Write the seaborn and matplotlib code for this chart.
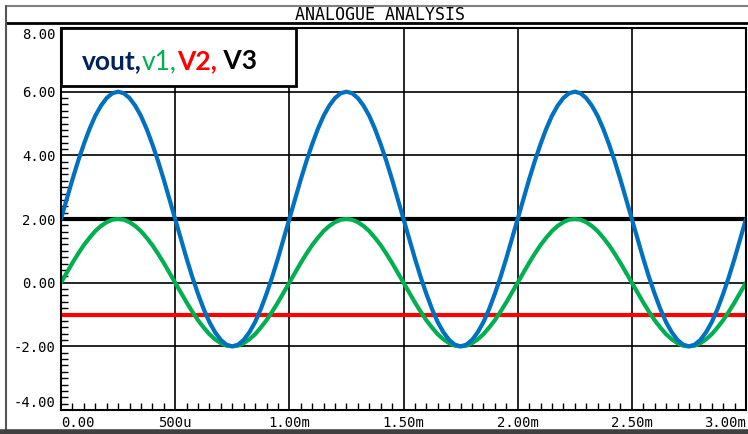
import matplotlib.pyplot as plt
import seaborn as sns
from matplotlib.lines import Line2D
from matplotlib.patches import Rectangle
from matplotlib.offsetbox import TextArea, HPacker, AnchoredOffsetbox
from matplotlib.ticker import MultipleLocator

# sample times in ms, every 25us
time_ms = [
    0.000, 0.025, 0.050, 0.075, 0.100, 0.125, 0.150, 0.175, 0.200, 0.225,
    0.250, 0.275, 0.300, 0.325, 0.350, 0.375, 0.400, 0.425, 0.450, 0.475,
    0.500, 0.525, 0.550, 0.575, 0.600, 0.625, 0.650, 0.675, 0.700, 0.725,
    0.750, 0.775, 0.800, 0.825, 0.850, 0.875, 0.900, 0.925, 0.950, 0.975,
    1.000, 1.025, 1.050, 1.075, 1.100, 1.125, 1.150, 1.175, 1.200, 1.225,
    1.250, 1.275, 1.300, 1.325, 1.350, 1.375, 1.400, 1.425, 1.450, 1.475,
    1.500, 1.525, 1.550, 1.575, 1.600, 1.625, 1.650, 1.675, 1.700, 1.725,
    1.750, 1.775, 1.800, 1.825, 1.850, 1.875, 1.900, 1.925, 1.950, 1.975,
    2.000, 2.025, 2.050, 2.075, 2.100, 2.125, 2.150, 2.175, 2.200, 2.225,
    2.250, 2.275, 2.300, 2.325, 2.350, 2.375, 2.400, 2.425, 2.450, 2.475,
    2.500, 2.525, 2.550, 2.575, 2.600, 2.625, 2.650, 2.675, 2.700, 2.725,
    2.750, 2.775, 2.800, 2.825, 2.850, 2.875, 2.900, 2.925, 2.950, 2.975,
    3.000]

vout = [
    2.00, 2.62, 3.24, 3.82, 4.35, 4.83, 5.24, 5.56, 5.80, 5.95,
    6.00, 5.95, 5.80, 5.56, 5.24, 4.83, 4.35, 3.82, 3.24, 2.62,
    2.00, 1.38, 0.76, 0.18, -0.35, -0.83, -1.24, -1.56, -1.80, -1.95,
    -2.00, -1.95, -1.80, -1.56, -1.24, -0.83, -0.35, 0.18, 0.76, 1.38,
    2.00, 2.62, 3.24, 3.82, 4.35, 4.83, 5.24, 5.56, 5.80, 5.95,
    6.00, 5.95, 5.80, 5.56, 5.24, 4.83, 4.35, 3.82, 3.24, 2.62,
    2.00, 1.38, 0.76, 0.18, -0.35, -0.83, -1.24, -1.56, -1.80, -1.95,
    -2.00, -1.95, -1.80, -1.56, -1.24, -0.83, -0.35, 0.18, 0.76, 1.38,
    2.00, 2.62, 3.24, 3.82, 4.35, 4.83, 5.24, 5.56, 5.80, 5.95,
    6.00, 5.95, 5.80, 5.56, 5.24, 4.83, 4.35, 3.82, 3.24, 2.62,
    2.00, 1.38, 0.76, 0.18, -0.35, -0.83, -1.24, -1.56, -1.80, -1.95,
    -2.00, -1.95, -1.80, -1.56, -1.24, -0.83, -0.35, 0.18, 0.76, 1.38,
    2.00]

v1 = [
    0.00, 0.31, 0.62, 0.91, 1.18, 1.41, 1.62, 1.78, 1.90, 1.98,
    2.00, 1.98, 1.90, 1.78, 1.62, 1.41, 1.18, 0.91, 0.62, 0.31,
    0.00, -0.31, -0.62, -0.91, -1.18, -1.41, -1.62, -1.78, -1.90, -1.98,
    -2.00, -1.98, -1.90, -1.78, -1.62, -1.41, -1.18, -0.91, -0.62, -0.31,
    0.00, 0.31, 0.62, 0.91, 1.18, 1.41, 1.62, 1.78, 1.90, 1.98,
    2.00, 1.98, 1.90, 1.78, 1.62, 1.41, 1.18, 0.91, 0.62, 0.31,
    0.00, -0.31, -0.62, -0.91, -1.18, -1.41, -1.62, -1.78, -1.90, -1.98,
    -2.00, -1.98, -1.90, -1.78, -1.62, -1.41, -1.18, -0.91, -0.62, -0.31,
    0.00, 0.31, 0.62, 0.91, 1.18, 1.41, 1.62, 1.78, 1.90, 1.98,
    2.00, 1.98, 1.90, 1.78, 1.62, 1.41, 1.18, 0.91, 0.62, 0.31,
    0.00, -0.31, -0.62, -0.91, -1.18, -1.41, -1.62, -1.78, -1.90, -1.98,
    -2.00, -1.98, -1.90, -1.78, -1.62, -1.41, -1.18, -0.91, -0.62, -0.31,
    0.00]

v2_level = -1.0
v3_level = 2.0

x_ticks = [0.0, 0.5, 1.0, 1.5, 2.0, 2.5, 3.0]
x_labels = ["0.00", "500u", "1.00m", "1.50m", "2.00m", "2.50m", "3.00m"]
y_ticks = [-4, -2, 0, 2, 4, 6, 8]
y_labels = ["-4.00", "-2.00", "0.00", "2.00", "4.00", "6.00", "8.00"]

sns.set_style("white")
plt.rcParams["font.family"] = ["DejaVu Sans Mono"]

fig = plt.figure(figsize=(7.48, 4.34), dpi=100)
ax = fig.add_axes([61 / 748, 24 / 434, 685 / 748, 382 / 434])

# flat lines first, then the sine waves on top
sns.lineplot(x=[0.0, 3.0], y=[v3_level, v3_level], color="black", lw=3, ax=ax)
sns.lineplot(x=[0.0, 3.0], y=[v2_level, v2_level], color="#ff0000", lw=3, ax=ax)
sns.lineplot(x=time_ms, y=v1, color="#00b050", lw=3, ax=ax,
             solid_joinstyle="round")
sns.lineplot(x=time_ms, y=vout, color="#0070c0", lw=3, ax=ax,
             solid_joinstyle="round")

ax.set_xlim(0, 3)
ax.set_ylim(-4, 8)
ax.set_xticks(x_ticks)
ax.set_xticklabels(x_labels)
ax.set_yticks(y_ticks)
ax.set_yticklabels(y_labels)
ax.xaxis.set_minor_locator(MultipleLocator(0.05))
ax.yaxis.set_minor_locator(MultipleLocator(0.2))
ax.tick_params(which="major", length=0, pad=4, labelsize=10, labelcolor="black")
ax.tick_params(which="minor", direction="in", length=5, width=1, color="black",
               left=True, bottom=True)
ax.grid(True, which="major", color="black", lw=1.2)
ax.set_axisbelow(True)
for s in ax.spines.values():
    s.set_color("black")
    s.set_linewidth(1.5)

xl = ax.get_xticklabels()
xl[0].set_ha("left")
xl[-1].set_ha("right")
yl = ax.get_yticklabels()
yl[-1].set_va("top")
yl[0].set_va("bottom")

# legend box with coloured names
ax.add_patch(Rectangle((0.0, 0.848), 0.343, 0.152, transform=ax.transAxes,
                       facecolor="white", edgecolor="black", lw=2, zorder=5,
                       clip_on=False))
parts = [("vout,", "#002060", "bold"), ("v1,", "#00b050", "normal"),
         ("V2,", "#ff0000", "bold"), (" V3", "black", "bold")]
areas = [TextArea(t, textprops=dict(color=c, fontweight=w, fontsize=19, family="Lato"))
         for t, c, w in parts]
box = AnchoredOffsetbox(loc="center left", child=HPacker(children=areas, sep=0, pad=0),
                        pad=0, borderpad=0, frameon=False,
                        bbox_to_anchor=(0.031, 0.911), bbox_transform=ax.transAxes)
box.set_zorder(6)
ax.add_artist(box)

# outer frame and title band
def px_line(x0, y0, x1, y1, **kw):
    fig.add_artist(Line2D([x0 / 748, x1 / 748], [1 - y0 / 434, 1 - y1 / 434],
                          transform=fig.transFigure, **kw))

px_line(6, 6, 748, 6, color="#808080", lw=1.5)
px_line(6, 22.5, 748, 22.5, color="black", lw=2)
px_line(6, 6, 6, 430, color="#555555", lw=1.5)
px_line(0, 431.5, 748, 431.5, color="#404040", lw=4)

fig.text(380 / 748, 1 - 14.5 / 434, "ANALOGUE ANALYSIS", ha="center", va="center",
         fontsize=12, family="DejaVu Sans Mono", color="black")

fig.savefig("out.png", dpi=100)
